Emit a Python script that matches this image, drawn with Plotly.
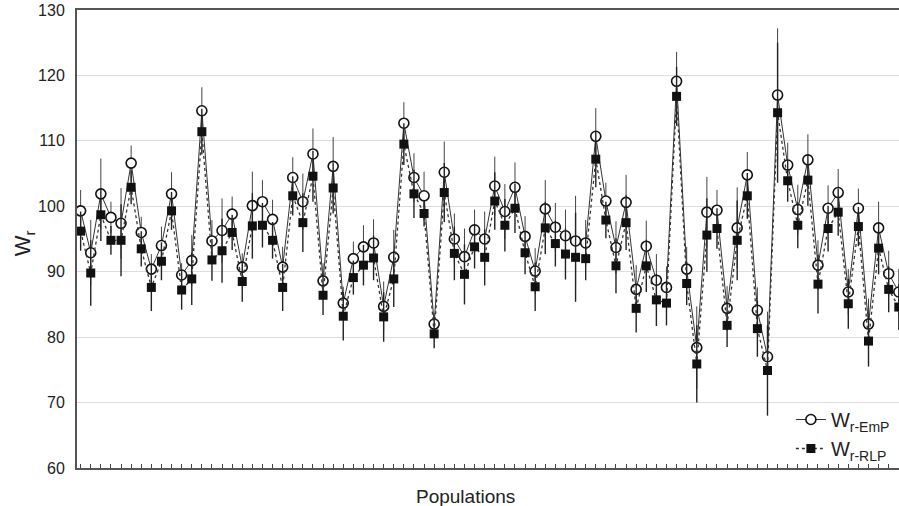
import plotly.graph_objects as go

populations = list(range(1, 83))

wr_emp = [99.3, 92.9, 101.9, 98.3, 97.4, 106.6, 96.0, 90.4, 94.0, 101.9,
          89.5, 91.7, 114.6, 94.7, 96.3, 98.8, 90.7, 100.1, 100.7, 98.0,
          90.7, 104.4, 100.7, 108.0, 88.6, 106.1, 85.2, 92.0, 93.8, 94.4,
          84.7, 92.2, 112.7, 104.4, 101.6, 82.0, 105.2, 95.0, 92.3, 96.4,
          95.0, 103.1, 99.2, 102.9, 95.4, 90.1, 99.6, 96.8, 95.5, 94.7,
          94.4, 110.7, 100.8, 93.7, 100.6, 87.3, 93.9, 88.7, 87.6, 119.1,
          90.4, 78.4, 99.1, 99.4, 84.4, 96.7, 104.8, 84.1, 77.0, 117.0,
          106.3, 99.5, 107.1, 91.0, 99.7, 102.1, 86.9, 99.7, 82.0, 96.7,
          89.7, 86.9]

wr_rlp = [96.2, 89.8, 98.7, 94.8, 94.8, 102.9, 93.5, 87.6, 91.6, 99.3,
          87.2, 88.9, 111.4, 91.8, 93.2, 96.0, 88.5, 97.0, 97.1, 94.8,
          87.6, 101.6, 97.5, 104.6, 86.4, 102.8, 83.2, 89.1, 91.0, 92.1,
          83.1, 88.9, 109.5, 101.9, 98.9, 80.5, 102.1, 92.8, 89.6, 93.8,
          92.2, 100.8, 97.1, 99.7, 92.9, 87.7, 96.7, 94.3, 92.7, 92.2,
          92.0, 107.2, 97.9, 90.9, 97.5, 84.4, 90.9, 85.7, 85.2, 116.8,
          88.2, 75.9, 95.6, 96.6, 81.8, 94.8, 101.6, 81.3, 74.9, 114.3,
          103.9, 97.1, 104.0, 88.1, 96.6, 99.1, 85.1, 96.9, 79.4, 93.6,
          87.3, 84.6]

err_emp = [3.2, 5.0, 5.4, 2.4, 5.4, 2.7, 2.4, 2.3, 2.9, 3.3,
           1.8, 3.9, 3.6, 3.2, 4.9, 2.7, 2.1, 5.2, 3.3, 3.0,
           3.1, 3.1, 4.3, 3.9, 2.7, 4.5, 2.5, 2.6, 3.3, 3.6,
           3.8, 4.2, 3.2, 3.7, 3.7, 1.6, 4.7, 3.9, 4.3, 3.1,
           4.2, 4.5, 4.2, 3.8, 3.1, 3.5, 4.4, 3.7, 4.0, 6.9,
           3.5, 4.3, 2.8, 4.0, 4.2, 3.7, 3.9, 4.0, 3.2, 4.5,
           3.4, 6.3, 5.4, 3.1, 3.4, 6.2, 3.5, 3.5, 6.9, 10.2,
           3.4, 3.8, 3.9, 3.8, 3.5, 3.6, 3.5, 3.0, 3.9, 4.0,
           3.5, 3.5]

err_rlp = [3.0, 5.0, 4.0, 2.2, 5.5, 2.6, 2.7, 3.6, 2.9, 2.9,
           3.0, 4.0, 3.5, 3.2, 4.9, 2.7, 3.1, 5.0, 3.4, 2.8,
           3.6, 3.0, 4.5, 3.9, 3.0, 3.9, 3.7, 2.6, 3.1, 3.4,
           3.8, 4.3, 3.2, 3.7, 2.0, 2.2, 4.5, 4.1, 4.6, 3.3,
           4.3, 4.4, 4.0, 3.8, 3.3, 3.7, 4.0, 3.5, 3.9, 6.8,
           3.3, 4.3, 2.8, 4.2, 4.2, 3.7, 4.0, 4.0, 3.4, 4.5,
           3.3, 5.9, 5.6, 3.1, 3.3, 6.1, 3.5, 4.3, 6.9, 10.7,
           3.2, 3.5, 3.9, 4.5, 3.5, 3.6, 3.8, 3.0, 3.9, 4.0,
           3.5, 3.5]

y_ticks = [60, 70, 80, 90, 100, 110, 120, 130]

FONT = "Liberation Sans, Arial, Helvetica, sans-serif"

fig = go.Figure()

fig.add_trace(go.Scatter(
    x=populations, y=wr_emp, name="W<sub>r-EmP</sub>",
    mode="lines+markers",
    line=dict(color="#333333", width=1),
    marker=dict(symbol="circle", size=10, color="white",
                line=dict(color="#111111", width=1.6)),
    error_y=dict(type="data", array=err_emp, visible=True,
                 color="#444444", thickness=1, width=0),
))

fig.add_trace(go.Scatter(
    x=populations, y=wr_rlp, name="W<sub>r-RLP</sub>",
    mode="lines+markers",
    line=dict(color="#333333", width=1.3, dash="dot"),
    marker=dict(symbol="square", size=9, color="#111111",
                line=dict(color="#111111", width=0)),
    error_y=dict(type="data", array=err_rlp, visible=True,
                 color="#222222", thickness=1.4, width=0),
))

fig.update_layout(
    width=899, height=506,
    margin=dict(l=77, r=0, t=10, b=38, autoexpand=False),
    paper_bgcolor="white", plot_bgcolor="white",
    font=dict(family=FONT, color="#222222"),
    showlegend=True,
    legend=dict(x=0.995, y=0.0, xanchor="right", yanchor="bottom",
                bgcolor="rgba(0,0,0,0)", font=dict(size=20, color="#222222"),
                tracegroupgap=0, itemwidth=30),
    xaxis=dict(range=[0.64, 82.02], showgrid=False, zeroline=False,
               showline=True, linecolor="#555555", linewidth=2, mirror=True,
               ticks="inside", tick0=1, dtick=1, ticklen=4, tickcolor="#444444",
               tickwidth=1, showticklabels=False, automargin=False),
    yaxis=dict(range=[60, 130], tickvals=y_ticks, showgrid=True,
               gridcolor="#dddddd", gridwidth=1, zeroline=False,
               showline=True, linecolor="#555555", linewidth=2,
               ticks="", tickfont=dict(size=16, color="#222222"),
               ticklabelstandoff=7, automargin=False),
)

fig.add_annotation(text="W<sub>r</sub>", xref="paper", yref="paper",
                   x=-0.065, xanchor="center", y=0.49, yanchor="middle",
                   showarrow=False, textangle=-90,
                   font=dict(size=22, color="#222222"))
fig.add_annotation(text="Populations", xref="paper", yref="paper",
                   x=0.473, xanchor="center", y=-0.035, yanchor="top",
                   showarrow=False,
                   font=dict(size=19, color="#222222"))

fig.write_html("out.html",
               config={"displayModeBar": False},
               post_script="document.body.style.margin='0px';")
